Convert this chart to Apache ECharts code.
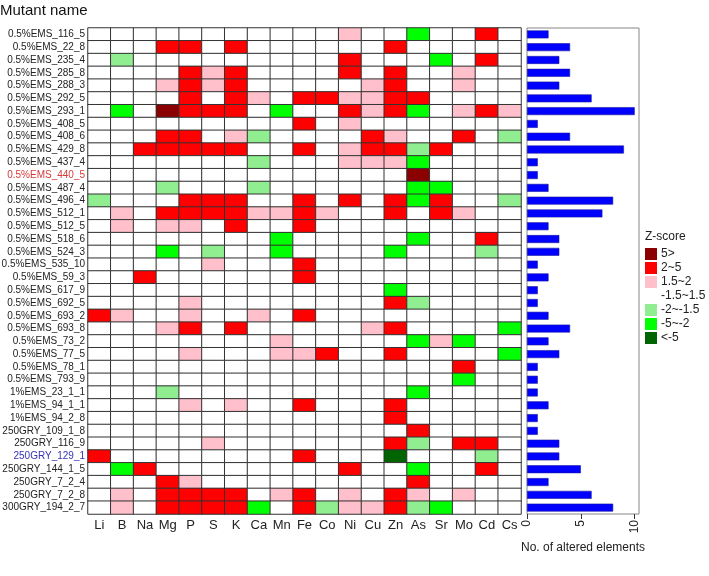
<!DOCTYPE html>
<html>
<head>
<meta charset="utf-8">
<script src="https://cdn.jsdelivr.net/npm/echarts@6/dist/echarts.min.js"></script>
<style>
  html, body { margin: 0; padding: 0; background: #fff; }
  #chart { width: 709px; height: 576px; }
</style>
</head>
<body>
<div id="chart"></div>
<script>
// z-score class per cell: 3 = 5>, 2 = 2~5, 1 = 1.5~2, 0 = -1.5~1.5, -1 = -2~-1.5, -2 = -5~-2, -3 = <-5
const elements = ['Li', 'B', 'Na', 'Mg', 'P', 'S', 'K', 'Ca', 'Mn', 'Fe', 'Co', 'Ni', 'Cu', 'Zn', 'As', 'Sr', 'Mo', 'Cd', 'Cs'];

const mutants = [
  '0.5%EMS_116_5', '0.5%EMS_22_8', '0.5%EMS_235_4', '0.5%EMS_285_8', '0.5%EMS_288_3',
  '0.5%EMS_292_5', '0.5%EMS_293_1', '0.5%EMS_408_5', '0.5%EMS_408_6', '0.5%EMS_429_8',
  '0.5%EMS_437_4', '0.5%EMS_440_5', '0.5%EMS_487_4', '0.5%EMS_496_4', '0.5%EMS_512_1',
  '0.5%EMS_512_5', '0.5%EMS_518_6', '0.5%EMS_524_3', '0.5%EMS_535_10', '0.5%EMS_59_3',
  '0.5%EMS_617_9', '0.5%EMS_692_5', '0.5%EMS_693_2', '0.5%EMS_693_8', '0.5%EMS_73_2',
  '0.5%EMS_77_5', '0.5%EMS_78_1', '0.5%EMS_793_9', '1%EMS_23_1_1', '1%EMS_94_1_1',
  '1%EMS_94_2_8', '250GRY_109_1_8', '250GRY_116_9', '250GRY_129_1', '250GRY_144_1_5',
  '250GRY_7_2_4', '250GRY_7_2_8', '300GRY_194_2_7'
];

const zClass = [
  [0,0,0,0,0,0,0,0,0,0,0,1,0,0,-2,0,0,2,0],
  [0,0,0,2,2,0,2,0,0,0,0,0,0,2,0,0,0,0,0],
  [0,-1,0,0,0,0,0,0,0,0,0,2,0,0,0,-2,0,2,0],
  [0,0,0,0,2,1,2,0,0,0,0,2,0,2,0,0,1,0,0],
  [0,0,0,1,2,1,2,0,0,0,0,0,1,2,0,0,1,0,0],
  [0,0,0,0,2,0,2,1,0,2,2,1,1,2,2,0,0,0,0],
  [0,-2,0,3,2,2,2,0,-2,0,0,2,1,2,-2,0,1,2,1],
  [0,0,0,0,0,0,0,0,0,2,0,1,0,0,0,0,0,0,0],
  [0,0,0,2,2,0,1,-1,0,0,0,0,2,1,0,0,2,0,-1],
  [0,0,2,2,2,2,2,0,0,2,0,1,2,2,-1,2,0,0,0],
  [0,0,0,0,0,0,0,-1,0,0,0,1,1,1,-2,0,0,0,0],
  [0,0,0,0,0,0,0,0,0,0,0,0,0,0,3,0,0,0,0],
  [0,0,0,-1,0,0,0,-1,0,0,0,0,0,0,-2,-2,0,0,0],
  [-1,0,0,0,2,2,2,0,0,2,0,2,0,2,-2,2,0,0,-1],
  [0,1,0,2,2,2,2,1,1,2,1,0,0,2,0,2,1,0,0],
  [0,1,0,1,1,0,2,0,0,2,0,0,0,0,0,0,0,0,0],
  [0,0,0,0,0,0,0,0,-2,0,0,0,0,0,-2,0,0,2,0],
  [0,0,0,-2,0,-1,0,0,-2,0,0,0,0,-2,0,0,0,-1,0],
  [0,0,0,0,0,1,0,0,0,2,0,0,0,0,0,0,0,0,0],
  [0,0,2,0,0,0,0,0,0,2,0,0,0,0,0,0,0,0,0],
  [0,0,0,0,0,0,0,0,0,0,0,0,0,-2,0,0,0,0,0],
  [0,0,0,0,1,0,0,0,0,0,0,0,0,2,-1,0,0,0,0],
  [2,1,0,0,1,0,0,1,0,2,0,0,0,0,0,0,0,0,0],
  [0,0,0,1,2,0,2,0,0,0,0,0,1,2,0,0,0,0,-2],
  [0,0,0,0,0,0,0,0,1,0,0,0,0,0,-2,1,-2,0,0],
  [0,0,0,0,1,0,0,0,1,1,2,0,0,2,0,0,0,0,-2],
  [0,0,0,0,0,0,0,0,0,0,0,0,0,0,0,0,2,0,0],
  [0,0,0,0,0,0,0,0,0,0,0,0,0,0,0,0,-2,0,0],
  [0,0,0,-1,0,0,0,0,0,0,0,0,0,0,-2,0,0,0,0],
  [0,0,0,0,1,0,1,0,0,2,0,0,0,2,0,0,0,0,0],
  [0,0,0,0,0,0,0,0,0,0,0,0,0,2,0,0,0,0,0],
  [0,0,0,0,0,0,0,0,0,0,0,0,0,0,2,0,0,0,0],
  [0,0,0,0,0,1,0,0,0,0,0,0,0,2,-1,0,2,2,0],
  [2,0,0,0,0,0,0,0,0,2,0,0,0,-3,0,0,0,-1,0],
  [0,-2,2,0,0,0,0,0,0,0,0,2,0,0,-2,0,0,2,0],
  [0,0,0,2,1,0,0,0,0,0,0,0,0,0,2,0,0,0,0],
  [0,1,0,2,2,2,2,0,1,2,0,1,0,2,1,0,1,0,0],
  [0,1,0,2,2,2,2,-2,0,2,-1,1,1,2,-1,-2,0,0,0]
];

const alteredCounts = [2, 4, 3, 4, 3, 6, 10, 1, 4, 9, 1, 1, 2, 8, 7, 2, 3, 3, 1, 2,
  1, 1, 2, 4, 2, 3, 1, 1, 1, 2, 1, 1, 3, 3, 5, 2, 6, 8];

const zLabels = ['5>', '2~5', '1.5~2', '-1.5~1.5', '-2~-1.5', '-5~-2', '<-5'];
const zValues = [3, 2, 1, 0, -1, -2, -3];
const zColors = ['#8b0000', '#ff0000', '#ffc0cb', '#ffffff', '#90ee90', '#00ff00', '#006400'];

const redNames = ['0.5%EMS_440_5'];
const blueNames = ['250GRY_129_1'];

const font = "'Liberation Sans', Arial, sans-serif";

const heatData = [];
zClass.forEach((row, i) => {
  row.forEach((v, j) => heatData.push([j, i, v]));
});

const chart = echarts.init(document.getElementById('chart'));

const option = {
  animation: false,
  textStyle: { fontFamily: font },
  title: {
    text: 'Mutant name',
    left: 0,
    top: 3,
    padding: 0,
    textStyle: { fontSize: 15, fontWeight: 'normal', color: '#111', fontFamily: font }
  },
  graphic: [
    {
      type: 'text',
      left: 645,
      top: 231,
      style: { text: 'Z-score', fontSize: 12, fill: '#222', fontFamily: font }
    }
  ],
  grid: [
    { left: 88, top: 28, width: 433, height: 486, outerBoundsMode: 'none' },
    { left: 527, top: 28, width: 112, height: 486, outerBoundsMode: 'none', show: true, borderColor: '#888', borderWidth: 1, backgroundColor: 'transparent' }
  ],
  xAxis: [
    {
      gridIndex: 0,
      type: 'category',
      data: elements,
      axisLine: { show: false },
      axisTick: { show: false },
      axisLabel: { fontSize: 13, color: '#222', margin: 5, interval: 0 },
      splitLine: { show: false }
    },
    {
      gridIndex: 1,
      type: 'value',
      min: 0,
      max: 10.4,
      axisLine: { show: false },
      axisTick: { show: true, length: 5, lineStyle: { color: '#333' }, customValues: [0, 5, 10] },
      axisLabel: { fontSize: 12, color: '#222', rotate: 90, margin: 6, customValues: [0, 5, 10] },
      splitLine: { show: false },
      name: 'No. of altered elements',
      nameLocation: 'middle',
      nameGap: 28,
      nameTextStyle: { fontSize: 12, color: '#222' }
    }
  ],
  yAxis: [
    {
      gridIndex: 0,
      type: 'category',
      data: mutants,
      inverse: true,
      axisLine: { show: false },
      axisTick: { show: false },
      axisLabel: {
        fontSize: 10,
        color: '#222',
        margin: 3,
        interval: 0,
        formatter: (v) => {
          if (redNames.includes(v)) return '{r|' + v + '}';
          if (blueNames.includes(v)) return '{b|' + v + '}';
          return v;
        },
        rich: {
          r: { color: '#d63a3a', fontSize: 10 },
          b: { color: '#3535b5', fontSize: 10 }
        }
      }
    },
    {
      gridIndex: 1,
      type: 'category',
      data: mutants,
      inverse: true,
      axisLine: { show: false },
      axisTick: { show: false },
      axisLabel: { show: false }
    }
  ],
  visualMap: {
    type: 'piecewise',
    seriesIndex: 0,
    dimension: 2,
    orient: 'vertical',
    align: 'left',
    left: 645,
    top: 248,
    padding: 0,
    itemWidth: 12,
    itemHeight: 12,
    itemGap: 2,
    textGap: 4,
    itemSymbol: 'rect',
    selectedMode: false,
    textStyle: { fontSize: 12, color: '#222', fontFamily: font },
    pieces: zValues.map((v, i) => ({ value: v, label: zLabels[i], color: zColors[i] }))
  },
  series: [
    {
      type: 'heatmap',
      xAxisIndex: 0,
      yAxisIndex: 0,
      data: heatData,
      itemStyle: { borderColor: '#333', borderWidth: 1 },
      emphasis: { disabled: true }
    },
    {
      type: 'bar',
      xAxisIndex: 1,
      yAxisIndex: 1,
      data: alteredCounts,
      barWidth: '62%',
      itemStyle: { color: '#0000ff', borderColor: '#1a1aa0', borderWidth: 0.6 }
    }
  ]
};

chart.setOption(option);
</script>
</body>
</html>
